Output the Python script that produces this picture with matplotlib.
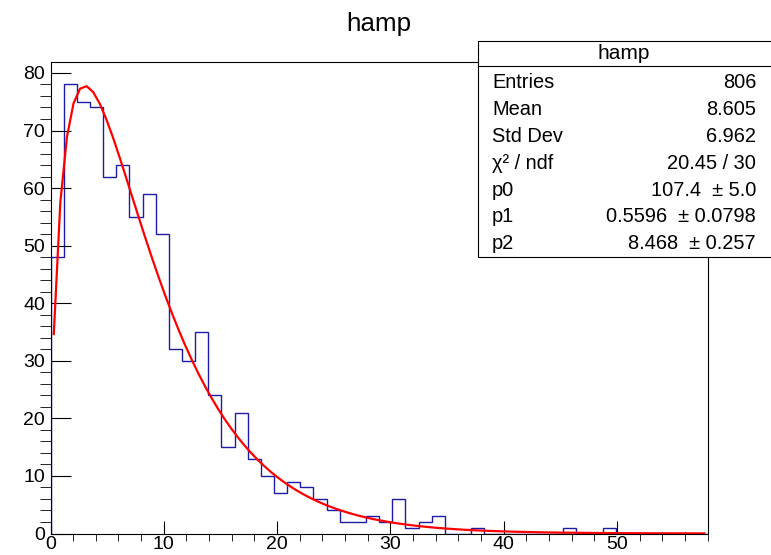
import math
import numpy as np
import matplotlib
matplotlib.use('Agg')
import matplotlib.pyplot as plt
from matplotlib.ticker import MultipleLocator
from matplotlib.patches import Rectangle
from matplotlib.lines import Line2D

plt.rcParams['font.family'] = ['Liberation Sans', 'DejaVu Sans']

# hamp histogram: 50 bins over [0, 58]
x_min, x_max, n_bins = 0.0, 58.0, 50
counts = [48, 78, 75, 74, 62, 64, 55, 59, 52, 32,
          30, 35, 24, 15, 21, 13, 10, 7, 9, 8,
          6, 4, 2, 2, 3, 2, 6, 1, 2, 3,
          0, 0, 1, 0, 0, 0, 0, 0, 0, 1,
          0, 0, 1, 0, 0, 0, 0, 0, 0, 0]

# fit result (Polya)
p0, p0_err = 107.4, 5.0
p1, p1_err = 0.5596, 0.0798
p2, p2_err = 8.468, 0.257
chi2, ndf = 20.45, 30

entries = 806
mean = 8.605
std_dev = 6.962

stat_labels = ['Entries', 'Mean', 'Std Dev', '\u03c7\u00b2 / ndf', 'p0', 'p1', 'p2']
stat_values = ['%d' % entries, '%.3f' % mean, '%.3f' % std_dev,
               '%.2f / %d' % (chi2, ndf),
               '%.1f  \u00b1 %.1f' % (p0, p0_err),
               '%.4f  \u00b1 %.4f' % (p1, p1_err),
               '%.3f  \u00b1 %.3f' % (p2, p2_err)]


def polya(x, a, theta, xbar):
    k = 1.0 + theta
    return a * k**k / math.gamma(k) * (x / xbar)**theta * np.exp(-k * x / xbar)


W, H = 771, 555
fig = plt.figure(figsize=(W / 100, H / 100), dpi=100)
ax = fig.add_axes([50.5 / W, 1 - 533.5 / H, (707.7 - 50.5) / W, (533.5 - 62.0) / H])

edges = np.linspace(x_min, x_max, n_bins + 1)
ax.stairs(counts, edges, color='#1c1ca8', linewidth=1.0, baseline=0)

# function sampled at npx=100 bin centres
npx = 100
dx = (x_max - x_min) / npx
xf = x_min + dx * (np.arange(npx) + 0.5)
ax.plot(xf, polya(xf, p0, p1, p2), color='#ff0000', linewidth=1.6)

ax.set_xlim(x_min, x_max)
ax.set_ylim(0, 1.05 * max(counts))

ax.xaxis.set_major_locator(MultipleLocator(10))
ax.xaxis.set_minor_locator(MultipleLocator(2))
ax.yaxis.set_major_locator(MultipleLocator(10))
ax.yaxis.set_minor_locator(MultipleLocator(2))
ax.tick_params(direction='in', top=False, right=False, labelsize=14, width=0.8, colors='black')
ax.tick_params(axis='x', which='major', length=9.4, pad=1.5)
ax.tick_params(axis='x', which='minor', length=5.0)
ax.tick_params(axis='y', which='major', length=14.4, pad=4)
ax.tick_params(axis='y', which='minor', length=7.9)
for s in ax.spines.values():
    s.set_linewidth(0.8)

fig.text(379 / W, 1 - 30.7 / H, 'hamp', ha='center', va='baseline', fontsize=18.7)

# stats box
bx0, by_top, by_sep, by_bot = 478 / W, 1 - 40.5 / H, 1 - 66 / H, 1 - 257 / H
fig.patches.append(Rectangle((bx0, by_bot), 1.02 - bx0, by_top - by_bot,
                             transform=fig.transFigure, facecolor='white',
                             edgecolor='black', linewidth=0.8, zorder=5))
fig.lines.append(Line2D([bx0, 1.02], [by_sep, by_sep], transform=fig.transFigure,
                        color='black', linewidth=0.8, zorder=6))
fig.text(624 / W, 1 - 59 / H, 'hamp', ha='center', va='baseline', fontsize=15, zorder=7)
for i, (lab, val) in enumerate(zip(stat_labels, stat_values)):
    yb = 1 - (88.5 + 26.8 * i) / H
    fig.text(492 / W, yb, lab, ha='left', va='baseline', fontsize=14.4, zorder=7)
    fig.text(756 / W, yb, val, ha='right', va='baseline', fontsize=14.4, zorder=7)

fig.savefig('out.png', dpi=100)
